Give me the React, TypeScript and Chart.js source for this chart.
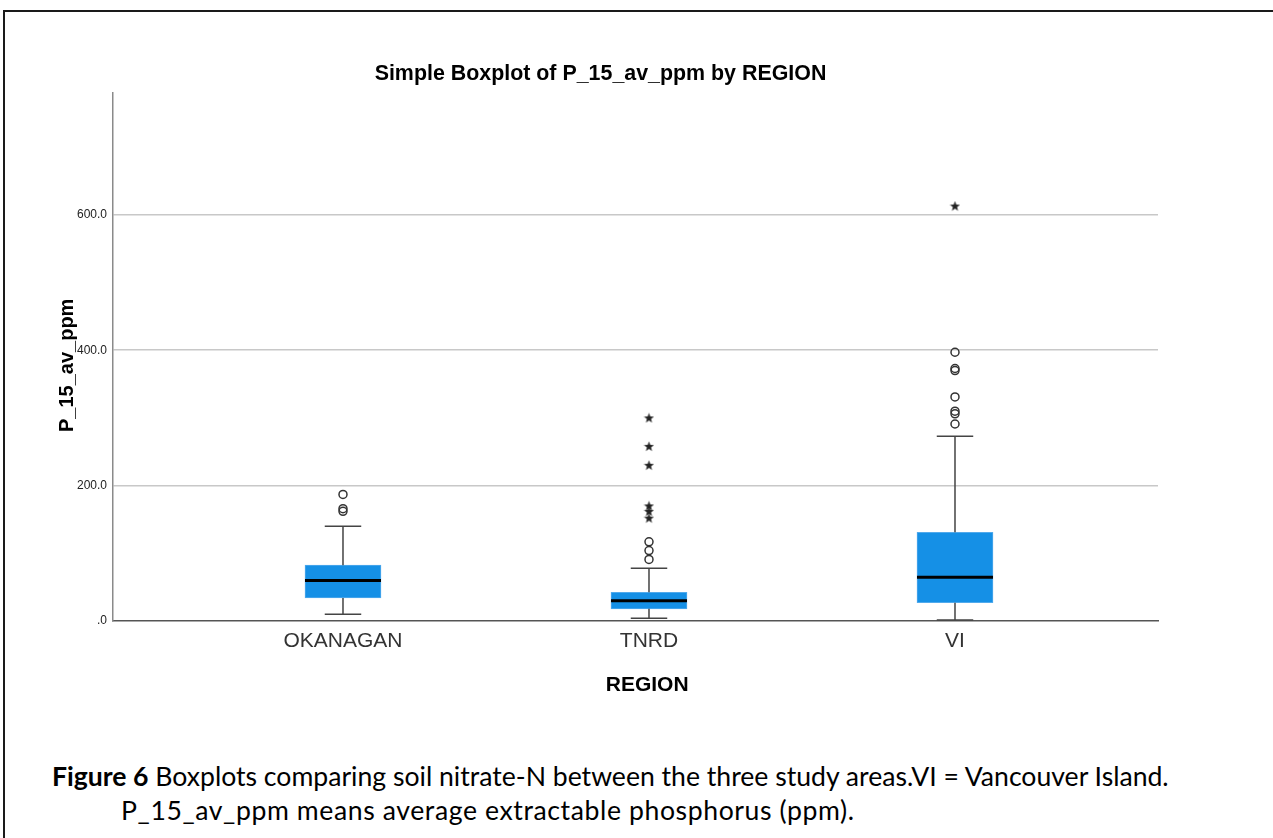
import React, { useEffect, useRef } from "react";
import { Chart, registerables } from "chart.js";

Chart.register(...registerables);

// ---- data ----
const categories = ["OKANAGAN", "TNRD", "VI"];
const lowerWhisker = [10, 4, 1.5];
const q1 = [34, 18, 27];
const median = [60, 30, 64.5];
const q3 = [82.5, 42.5, 131];
const upperWhisker = [140, 78, 273];
const circleOutliers = [
  [187, 166, 162],
  [117, 104, 91],
  [397, 373, 370, 331, 310, 306, 291],
];
const starOutliers = [[], [300, 258, 230, 170, 162, 152], [613]];
const yTickStep = 200;
const yMax = 780;

const chartFont = "'Liberation Sans', Arial, Helvetica, sans-serif";

function makeStar(): HTMLCanvasElement {
  const c = document.createElement("canvas");
  c.width = 11;
  c.height = 11;
  const g = c.getContext("2d")!;
  g.fillStyle = "#222";
  g.beginPath();
  for (let k = 0; k < 10; k++) {
    const r = k % 2 === 0 ? 5.3 : 2.2;
    const a = -Math.PI / 2 + (k * Math.PI) / 5;
    const px = 5.5 + r * Math.cos(a);
    const py = 5.9 + r * Math.sin(a);
    if (k === 0) g.moveTo(px, py);
    else g.lineTo(px, py);
  }
  g.closePath();
  g.fill();
  return c;
}

const boxPlugin = {
  id: "boxWhiskers",
  afterDatasetsDraw(chart: any) {
    const { ctx } = chart;
    const xs = chart.scales.x;
    const ys = chart.scales.y;
    const meta = chart.getDatasetMeta(0);
    const py = (v: number) => ys.getPixelForValue(v);
    ctx.save();
    categories.forEach((_, i) => {
      const bar = meta.data[i];
      const cx = xs.getPixelForValue(i + 1);
      const half = bar.width / 2;
      const capHalf = half * 0.48;
      ctx.strokeStyle = "#444";
      ctx.lineWidth = 1.5;
      ctx.beginPath();
      ctx.moveTo(cx, py(q3[i]));
      ctx.lineTo(cx, py(upperWhisker[i]));
      ctx.moveTo(cx, py(q1[i]));
      ctx.lineTo(cx, py(lowerWhisker[i]));
      ctx.moveTo(cx - capHalf, py(upperWhisker[i]));
      ctx.lineTo(cx + capHalf, py(upperWhisker[i]));
      ctx.moveTo(cx - capHalf, py(lowerWhisker[i]));
      ctx.lineTo(cx + capHalf, py(lowerWhisker[i]));
      ctx.stroke();
      ctx.strokeStyle = "#000";
      ctx.lineWidth = 3;
      ctx.beginPath();
      ctx.moveTo(cx - half, py(median[i]));
      ctx.lineTo(cx + half, py(median[i]));
      ctx.stroke();
    });
    ctx.restore();
  },
};

const isStepTick = (v: number) => Math.abs(v / yTickStep - Math.round(v / yTickStep)) < 1e-9;

function BoxChart() {
  const ref = useRef<HTMLCanvasElement | null>(null);
  useEffect(() => {
    if (!ref.current) return;
    const star = makeStar();
    const chart = new Chart(ref.current, {
      type: "bar",
      data: {
        datasets: [
          {
            type: "bar",
            label: "box",
            data: categories.map((_, i) => ({ x: i + 1, y: [q1[i], q3[i]] })) as any,
            backgroundColor: "#1590E6",
            borderColor: "#52aaec",
            borderWidth: 1,
            borderSkipped: false,
            barThickness: 76,
            grouped: false,
          } as any,
          {
            type: "scatter",
            label: "outliers",
            data: circleOutliers.flatMap((vals, i) => vals.map((v) => ({ x: i + 1, y: v }))),
            pointStyle: "circle",
            pointRadius: 4,
            pointBorderWidth: 1.5,
            pointBorderColor: "#333",
            pointBackgroundColor: "rgba(0,0,0,0)",
          } as any,
          {
            type: "scatter",
            label: "extremes",
            data: starOutliers.flatMap((vals, i) => vals.map((v) => ({ x: i + 1, y: v }))),
            pointStyle: star,
            pointRadius: 5,
          } as any,
        ],
      },
      options: {
        responsive: false,
        animation: false,
        devicePixelRatio: 1,
        layout: { padding: { left: 43, right: 115, top: 0, bottom: 9 } },
        plugins: {
          legend: { display: false },
          tooltip: { enabled: false },
          title: {
            display: true,
            text: "Simple Boxplot of P_15_av_ppm by REGION",
            color: "#000",
            font: { family: chartFont, size: 21.4, weight: "bold" },
            padding: { top: 61.2, bottom: 6.1 },
          },
        },
        scales: {
          x: {
            type: "linear",
            offset: false,
            min: 0.2484,
            max: 3.6634,
            afterBuildTicks: (s: any) => {
              s.ticks = categories.map((_, i) => ({ value: i + 1 }));
            },
            afterFit: (s: any) => {
              s.height = 90;
            },
            grid: { display: false, drawTicks: false, offset: false },
            border: { display: true, color: "#555", width: 1.5 },
            ticks: {
              callback: (v: any) => categories[Number(v) - 1] ?? "",
              font: { family: chartFont, size: 21 },
              color: "#333",
              padding: 8,
              maxRotation: 0,
              autoSkip: false,
            },
            title: {
              display: true,
              text: "    REGION",
              color: "#000",
              font: { family: chartFont, size: 21, weight: "bold" },
              padding: { top: 0, bottom: 13.4 },
            },
          },
          y: {
            type: "linear",
            min: 0,
            suggestedMax: yMax,
            bounds: "data",
            afterFit: (s: any) => {
              s.width = 70;
            },
            grid: {
              color: (c: any) =>
                c.tick && c.tick.value !== 0 && isStepTick(c.tick.value) ? "#c8c8c8" : "rgba(0,0,0,0)",
              lineWidth: 1.5,
              drawTicks: false,
            },
            border: { color: "#8a8a8a", width: 1.5 },
            ticks: {
              stepSize: yTickStep,
              autoSkip: false,
              callback: (v: any) => {
                const n = Number(v);
                if (!isStepTick(n)) return null;
                return n === 0 ? ".0" : n.toFixed(1);
              },
              font: { family: chartFont, size: 12 },
              color: "#222",
              padding: 6,
            },
            title: {
              display: true,
              text: "P_15_av_ppm   ",
              color: "#000",
              font: { family: chartFont, size: 20, weight: "bold" },
              padding: { top: 12, bottom: 0 },
            },
          },
        },
      } as any,
      plugins: [boxPlugin],
    });
    return () => chart.destroy();
  }, []);
  return (
    <canvas
      ref={ref}
      width={1273}
      height={720}
      style={{ position: "absolute", left: 0, top: 0, width: 1273, height: 720 }}
    />
  );
}

export default function App() {
  const capFont = "Lato, 'Open Sans', sans-serif";
  const capStyle: React.CSSProperties = {
    position: "absolute",
    fontFamily: capFont,
    fontSize: 26.6,
    lineHeight: "34px",
    color: "#000",
    whiteSpace: "nowrap",
  };
  return (
    <div
      style={{
        position: "fixed",
        left: 0,
        top: 0,
        width: 1273,
        height: 838,
        overflow: "hidden",
        background: "#fff",
      }}
    >
      <div
        style={{
          position: "absolute",
          left: 3,
          top: 10,
          width: 2000,
          height: 2000,
          borderLeft: "2px solid #1a1a1a",
          borderTop: "2px solid #1a1a1a",
        }}
      />
      <BoxChart />
      <div style={{ ...capStyle, left: 52, top: 759 }}>
        <b>Figure 6</b> Boxplots comparing soil nitrate-N between the three study areas.VI = Vancouver Island.
      </div>
      <div style={{ ...capStyle, left: 121, top: 793, letterSpacing: "0.6px" }}>
        P_15_av_ppm means average extractable phosphorus (ppm).
      </div>
    </div>
  );
}
